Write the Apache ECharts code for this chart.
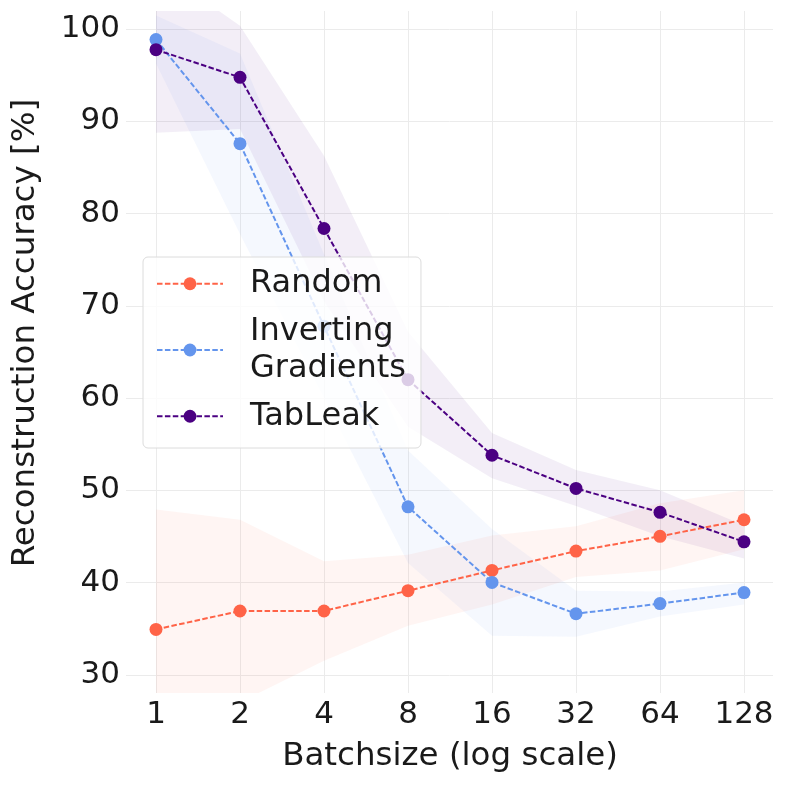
<!DOCTYPE html>
<html>
<head>
<meta charset="utf-8">
<script src="https://cdn.jsdelivr.net/npm/echarts@6/dist/echarts.min.js"></script>
<style>
html,body{margin:0;padding:0;background:#fff;}
#c{width:789px;height:789px;}
</style>
</head>
<body>
<div id="c"></div>
<script>
// ---- data ----
const batchSizes = [1, 2, 4, 8, 16, 32, 64, 128];
const yTicks = [30, 40, 50, 60, 70, 80, 90, 100];

const randomMean = [34.9, 36.9, 36.9, 39.1, 41.3, 43.4, 45.0, 46.8];
const randomLow  = [21.9, 27.0, 31.5, 35.3, 37.6, 40.6, 41.3, 43.6];
const randomHigh = [47.9, 46.8, 42.3, 43.0, 45.1, 46.1, 48.6, 50.0];

const igMean = [98.9, 87.6, 67.8, 48.2, 40.0, 36.6, 37.7, 38.9];
const igLow  = [96.3, 77.8, 60.0, 42.1, 34.2, 34.1, 36.3, 37.6];
const igHigh = [101.5, 97.4, 75.6, 54.3, 45.8, 39.1, 39.0, 40.0];

const tabMean = [97.8, 94.8, 78.4, 62.0, 53.8, 50.2, 47.6, 44.4];
const tabLow  = [88.8, 89.2, 70.5, 56.9, 51.3, 48.3, 45.0, 42.6];
const tabHigh = [106.8, 100.4, 86.3, 67.2, 56.2, 52.2, 50.0, 46.2];

const seriesNames = ['Random', 'Inverting Gradients', 'TabLeak'];
const colors = ['#FF6347', '#6495ED', '#4B0082'];
const xTitle = 'Batchsize (log scale)';
const yTitle = 'Reconstruction Accuracy [%]';

// ---- chart ----
const FONT = 'DejaVu Sans';
const TXT = '#1a1a1a';
const GRIDC = '#ebebeb';
const xs = batchSizes.map(b => Math.log2(b));
const pts = vals => xs.map((x, i) => [x, vals[i]]);

function band(name, low, high, color) {
  return {
    name: name + ' band', type: 'custom', xAxisIndex: 1, yAxisIndex: 1,
    silent: true, z: 1, clip: true,
    data: xs.map((x, i) => [x, low[i], high[i]]),
    encode: { x: 0, y: [1, 2] },
    renderItem: function (params, api) {
      if (params.dataIndex !== 0) return null;
      const upper = [], lower = [];
      for (let i = 0; i < xs.length; i++) {
        lower.push(api.coord([xs[i], low[i]]));
        upper.push(api.coord([xs[i], high[i]]));
      }
      const poly = lower.concat(upper.reverse());
      const cs = params.coordSys;
      return {
        type: 'group',
        children: [{
          type: 'polygon',
          shape: { points: poly },
          style: { fill: color, opacity: 0.065 },
          clipPath: { type: 'rect', shape: { x: cs.x, y: cs.y, width: cs.width, height: cs.height } }
        }]
      };
    }
  };
}
function line(name, mean, color) {
  return {
    name: name, type: 'line', xAxisIndex: 1, yAxisIndex: 1,
    data: pts(mean), symbol: 'circle', symbolSize: 13,
    itemStyle: { color: color },
    lineStyle: { color: color, width: 2, type: [5.5, 2.4] },
    z: 3
  };
}

const chart = echarts.init(document.getElementById('c'), null, { renderer: 'canvas' });
chart.setOption({
  animation: false,
  backgroundColor: '#fff',
  grid: [
    { left: 126, right: 16, top: 29, height: 646, containLabel: false },
    { left: 156, width: 588, top: 11, height: 682, containLabel: false }
  ],
  xAxis: [
    { gridIndex: 0, type: 'value', min: 0, max: 1, show: false },
    {
      gridIndex: 1, type: 'value', min: 0, max: 7, interval: 1,
      axisLine: { show: false }, axisTick: { show: false },
      splitLine: { show: true, lineStyle: { color: GRIDC, width: 1 } },
      axisLabel: {
        fontFamily: FONT, fontSize: 31, color: TXT, margin: 6,
        formatter: v => String(batchSizes[Math.round(v)])
      },
      name: xTitle, nameLocation: 'middle', nameGap: 47,
      nameTextStyle: { fontFamily: FONT, fontSize: 32.5, color: TXT }
    }
  ],
  yAxis: [
    {
      gridIndex: 0, type: 'value', min: yTicks[0], max: yTicks[yTicks.length - 1], interval: 10,
      axisLine: { show: false }, axisTick: { show: false },
      splitLine: { show: true, lineStyle: { color: GRIDC, width: 1 } },
      axisLabel: { fontFamily: FONT, fontSize: 31, color: TXT, margin: 6 }
    },
    { gridIndex: 1, type: 'value', min: 28, max: 102, show: false }
  ],
  legend: {
    data: seriesNames,
    orient: 'vertical',
    left: 143, top: 257,
    padding: [8, 15, 13, 13],
    itemGap: 10,
    itemWidth: 66, itemHeight: 16,
    backgroundColor: 'rgba(255,255,255,0.8)',
    borderColor: '#dcdcdc', borderWidth: 1, borderRadius: 5,
    formatter: n => n.replace(' ', '\n'),
    textStyle: { fontFamily: FONT, fontSize: 32, color: TXT, lineHeight: 37.5, padding: [0, 0, 0, 22] },
    selectedMode: false
  },
  graphic: [{
    type: 'text', x: 26, y: 333, rotation: Math.PI / 2,
    style: { text: yTitle, fontFamily: FONT, fontSize: 32.5, fill: TXT, align: 'center', verticalAlign: 'middle' }
  }],
  series: [
    band('Random', randomLow, randomHigh, colors[0]),
    band('Inverting Gradients', igLow, igHigh, colors[1]),
    band('TabLeak', tabLow, tabHigh, colors[2]),
    line(seriesNames[0], randomMean, colors[0]),
    line(seriesNames[1], igMean, colors[1]),
    line(seriesNames[2], tabMean, colors[2])
  ]
});
</script>
</body>
</html>
